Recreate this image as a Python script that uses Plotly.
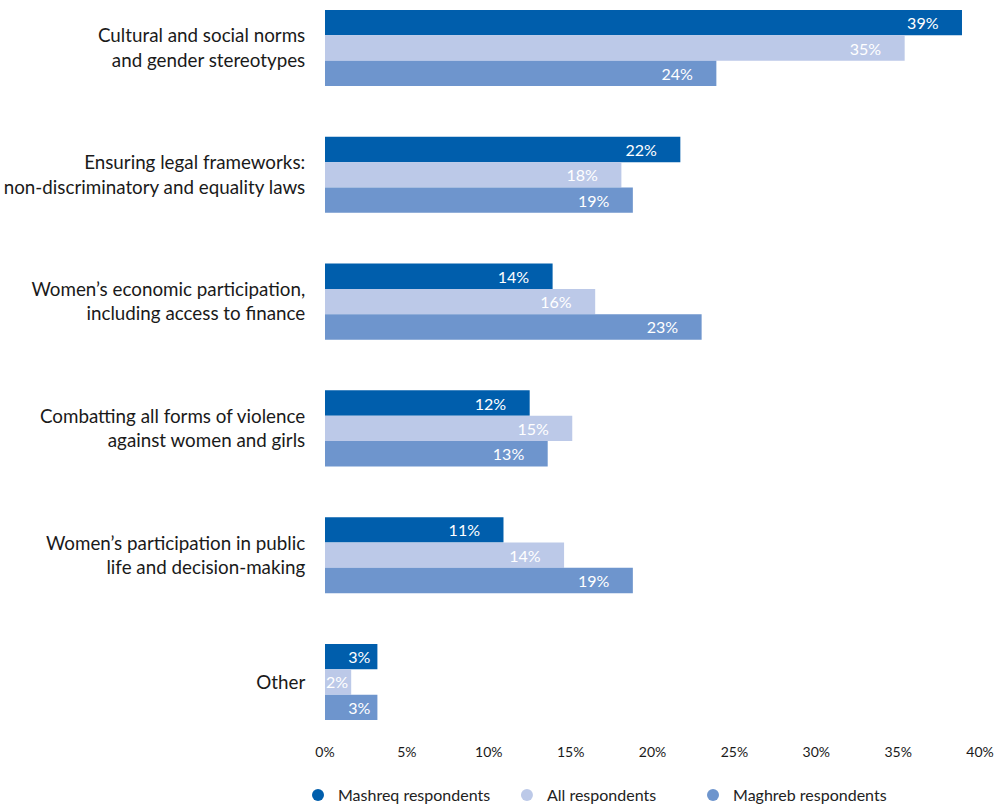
import plotly.graph_objects as go

categories = [
    "Cultural and social norms<br>and gender stereotypes",
    "Ensuring legal frameworks:<br>non-discriminatory and equality laws",
    "Women’s economic participation,<br>including access to finance",
    "Combatting all forms of violence<br>against women and girls",
    "Women’s participation in public<br>life and decision-making",
    "Other",
]
series_names = ["Mashreq respondents", "All respondents", "Maghreb respondents"]
mashreq = [38.9, 21.7, 13.9, 12.5, 10.9, 3.2]
all_resp = [35.4, 18.1, 16.5, 15.1, 14.6, 1.6]
maghreb = [23.9, 18.8, 23.0, 13.6, 18.8, 3.2]
mashreq_lbl = ["39%", "22%", "14%", "12%", "11%", "3%"]
all_lbl = ["35%", "18%", "16%", "15%", "14%", "2%"]
maghreb_lbl = ["24%", "19%", "23%", "13%", "19%", "3%"]
x_ticks = [0, 5, 10, 15, 20, 25, 30, 35, 40]

colors = ["#005EAC", "#BCC9E8", "#6E95CD"]
FONT = "Lato, 'Noto Sans', sans-serif"


def pad_for(v):
    if v > 6:
        return "\u00a0" * 5
    if v > 2.5:
        return "\u00a0"
    return ""


fig = go.Figure()
for name, vals, lbls, col in zip(series_names, [mashreq, all_resp, maghreb],
                                 [mashreq_lbl, all_lbl, maghreb_lbl], colors):
    txt = [l + pad_for(v) for l, v in zip(lbls, vals)]
    fig.add_trace(go.Bar(
        y=list(range(len(categories))), x=vals, orientation="h", name=name,
        marker=dict(color=col, line=dict(width=0)),
        text=txt, textposition="inside", insidetextanchor="end",
        textfont=dict(color="white", size=16, family=FONT), textangle=0,
        constraintext="none", showlegend=False, hoverinfo="skip",
        cliponaxis=False,
    ))

legend_ids = ["legend", "legend2", "legend3"]
legend_x = [0.2992, 0.509, 0.6958]
for name, col, lid in zip(series_names, colors, legend_ids):
    fig.add_trace(go.Scatter(
        x=[None], y=[None], mode="markers", name=name, legend=lid,
        marker=dict(color=col, size=12, symbol="circle"),
    ))

legend_common = dict(orientation="h", xref="container", yref="container",
                     xanchor="left", yanchor="middle", y=1 - 795 / 806,
                     font=dict(size=16, color="#222222", family=FONT),
                     bgcolor="rgba(0,0,0,0)", borderwidth=0)

fig.update_layout(
    width=996, height=806,
    margin=dict(l=325, r=16, t=10, b=86, autoexpand=False),
    plot_bgcolor="white", paper_bgcolor="white",
    barmode="group", bargap=0.4, bargroupgap=0,
    font=dict(family=FONT, color="#222222"),
    xaxis=dict(range=[0, 40], tickvals=x_ticks,
               ticktext=[f"{t}%" for t in x_ticks],
               showgrid=False, zeroline=False, showline=False,
               ticks="outside", ticklen=19, tickcolor="rgba(0,0,0,0)",
               ticklabeloverflow="allow",
               tickfont=dict(size=14, color="#1a1a1a")),
    yaxis=dict(range=[5.3, -0.3], tickvals=list(range(len(categories))),
               ticktext=categories, showgrid=False, zeroline=False,
               showline=False, ticks="outside", ticklen=15,
               tickcolor="rgba(0,0,0,0)",
               tickfont=dict(size=18.8, color="#1a1a1a")),
    legend=dict(x=legend_x[0], **legend_common),
    legend2=dict(x=legend_x[1], **legend_common),
    legend3=dict(x=legend_x[2], **legend_common),
)

fig.write_html("out.html")
